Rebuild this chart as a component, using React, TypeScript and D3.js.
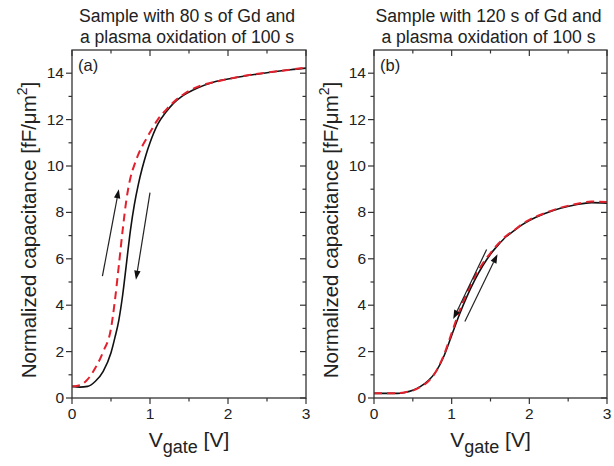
import React from "react";
import * as d3 from "d3";

const W = 614;
const H = 466;

const xTicks = [0, 1, 2, 3];
const yTicks = [0, 2, 4, 6, 8, 10, 12, 14];

const titlesA = ["Sample with 80 s of Gd and", "a plasma oxidation of 100 s"];
const titlesB = ["Sample with 120 s of Gd and", "a plasma oxidation of 100 s"];

// Panel (a)
const aV = [0, 0.1, 0.2, 0.3, 0.4, 0.5, 0.55, 0.6, 0.65, 0.7, 0.75, 0.8, 0.85, 0.9, 0.95, 1.0, 1.1, 1.2, 1.3, 1.4, 1.6, 1.8, 2.0, 2.2, 2.5, 2.8, 3.0];
const aBlack = [0.5, 0.47, 0.5, 0.72, 1.15, 1.95, 2.6, 3.35, 4.45, 5.85, 7.25, 8.35, 9.2, 9.9, 10.5, 11.0, 11.8, 12.3, 12.7, 12.98, 13.35, 13.6, 13.75, 13.87, 14.02, 14.15, 14.22];
const aRed = [0.5, 0.55, 0.8, 1.3, 2.0, 3.0, 4.2, 5.7, 7.25, 8.6, 9.5, 10.05, 10.5, 10.85, 11.15, 11.45, 12.0, 12.4, 12.75, 13.02, 13.4, 13.6, 13.75, 13.88, 14.03, 14.15, 14.25];

// Panel (b)
const bV = [0, 0.1, 0.2, 0.3, 0.4, 0.5, 0.6, 0.7, 0.8, 0.9, 1.0, 1.1, 1.2, 1.3, 1.4, 1.5, 1.6, 1.7, 1.8, 1.9, 2.0, 2.2, 2.4, 2.6, 2.8, 3.0];
const bBlack = [0.2, 0.2, 0.2, 0.2, 0.24, 0.33, 0.5, 0.75, 1.15, 1.8, 2.7, 3.6, 4.4, 5.1, 5.7, 6.2, 6.6, 6.95, 7.2, 7.45, 7.65, 7.95, 8.18, 8.33, 8.42, 8.4];
const bRed = [0.2, 0.2, 0.2, 0.21, 0.25, 0.32, 0.48, 0.72, 1.15, 1.85, 2.8, 3.75, 4.55, 5.25, 5.8, 6.25, 6.65, 6.98, 7.22, 7.48, 7.68, 7.97, 8.2, 8.36, 8.47, 8.45];

// arrows in data coords [V, C] -> [V, C] (head at end)
const aArrows = [
  [[0.39, 5.25], [0.6, 9.0]],
  [[1.0, 8.85], [0.82, 5.1]],
];
const bArrows = [
  [[1.45, 6.4], [1.02, 3.4]],
  [[1.17, 3.3], [1.59, 6.2]],
];

const FONT = "'Liberation Sans', Arial, sans-serif";
const TXT = "#222";
const AX = "#333";

type PanelProps = {
  x0: number;
  x1: number;
  V: number[];
  black: number[];
  red: number[];
  titles: string[];
  tag: string;
  arrows: number[][][];
};

const TOP = 50;
const BOT = 398;

function Panel({ x0, x1, V, black, red, titles, tag, arrows }: PanelProps) {
  const x = d3.scaleLinear().domain([0, 3]).range([x0, x1]);
  const y = d3.scaleLinear().domain([0, 15]).range([BOT, TOP]);
  const line = d3
    .line<number>()
    .x((_, i) => x(V[i]))
    .y((d) => y(d))
    .curve(d3.curveMonotoneX);
  const minorX = d3.range(0, 3.01, 0.5);
  const minorY = d3.range(1, 15, 2);
  const cx = (x0 + x1) / 2;
  return (
    <g>
      {titles.map((t, i) => (
        <text key={i} x={cx - 2} y={22 + i * 21} textAnchor="middle" fontSize={17.6} fill={TXT} fontFamily={FONT}>
          {t}
        </text>
      ))}
      <path d={line(black) || ""} fill="none" stroke="#111" strokeWidth={1.6} />
      <path d={line(red) || ""} fill="none" stroke="#e3202c" strokeWidth={2} strokeDasharray="8,5" />
      {arrows.map((a, i) => {
        const xa = x(a[0][0]), ya = y(a[0][1]), xb = x(a[1][0]), yb = y(a[1][1]);
        const ang = Math.atan2(yb - ya, xb - xa);
        const L = 9, Wd = 3.2;
        const bx = xb - L * Math.cos(ang), by = yb - L * Math.sin(ang);
        const px = -Math.sin(ang) * Wd, py = Math.cos(ang) * Wd;
        return (
          <g key={i}>
            <line x1={xa} y1={ya} x2={bx} y2={by} stroke="#222" strokeWidth={1.2} />
            <path d={`M${xb},${yb}L${bx + px},${by + py}L${bx - px},${by - py}Z`} fill="#111" />
          </g>
        );
      })}
      <rect x={x0} y={TOP} width={x1 - x0} height={BOT - TOP} fill="none" stroke={AX} strokeWidth={1.3} />
      {minorX.map((v, i) => {
        const major = Math.abs(v - Math.round(v)) < 1e-6;
        return (
          <g key={"bx" + i}>
            <line x1={x(v)} x2={x(v)} y1={BOT} y2={BOT + (major ? 6 : 3.5)} stroke={AX} strokeWidth={1.2} />
            <line x1={x(v)} x2={x(v)} y1={TOP} y2={TOP + (major ? 6 : 3.5)} stroke={AX} strokeWidth={1.2} />
          </g>
        );
      })}
      {xTicks.map((v) => (
        <text key={"xl" + v} x={x(v)} y={BOT + 21} textAnchor="middle" fontSize={15.5} fill={TXT} fontFamily={FONT}>
          {v}
        </text>
      ))}
      {yTicks.map((v) => (
        <g key={"yt" + v}>
          <line x1={x0 - 6} x2={x0} y1={y(v)} y2={y(v)} stroke={AX} strokeWidth={1.2} />
          <line x1={x1 - 6} x2={x1} y1={y(v)} y2={y(v)} stroke={AX} strokeWidth={1.2} />
          <text x={x0 - 8} y={y(v) + 5} textAnchor="end" fontSize={15.5} fill={TXT} fontFamily={FONT}>
            {v}
          </text>
        </g>
      ))}
      {minorY.map((v) => (
        <g key={"ym" + v}>
          <line x1={x0 - 3.5} x2={x0} y1={y(v)} y2={y(v)} stroke={AX} strokeWidth={1.2} />
          <line x1={x1 - 3.5} x2={x1} y1={y(v)} y2={y(v)} stroke={AX} strokeWidth={1.2} />
        </g>
      ))}
      <text x={x0 + 6} y={TOP + 21} fontSize={16.5} fill={TXT} fontFamily={FONT}>
        {tag}
      </text>
      <text x={cx} y={447} textAnchor="middle" fontSize={21} fill={TXT} fontFamily={FONT}>
        V
        <tspan fontSize={18} dy={6}>gate</tspan>
        <tspan dy={-6}> [V]</tspan>
      </text>
      <text
        transform={`translate(${x0 - 36},${(TOP + BOT) / 2 + 6}) rotate(-90)`}
        textAnchor="middle"
        fontSize={20.5}
        fill={TXT}
        fontFamily={FONT}
      >
        Normalized capacitance [fF/μm
        <tspan fontSize={14} dy={-9}>2</tspan>
        <tspan dy={9}>]</tspan>
      </text>
    </g>
  );
}

export default function App() {
  return (
    <svg width={W} height={H} style={{ position: "absolute", left: 0, top: 0, background: "#fff" }}>
      <rect width={W} height={H} fill="#fff" />
      <Panel x0={72} x1={306} V={aV} black={aBlack} red={aRed} titles={titlesA} tag="(a)" arrows={aArrows} />
      <Panel x0={374} x1={607} V={bV} black={bBlack} red={bRed} titles={titlesB} tag="(b)" arrows={bArrows} />
    </svg>
  );
}
